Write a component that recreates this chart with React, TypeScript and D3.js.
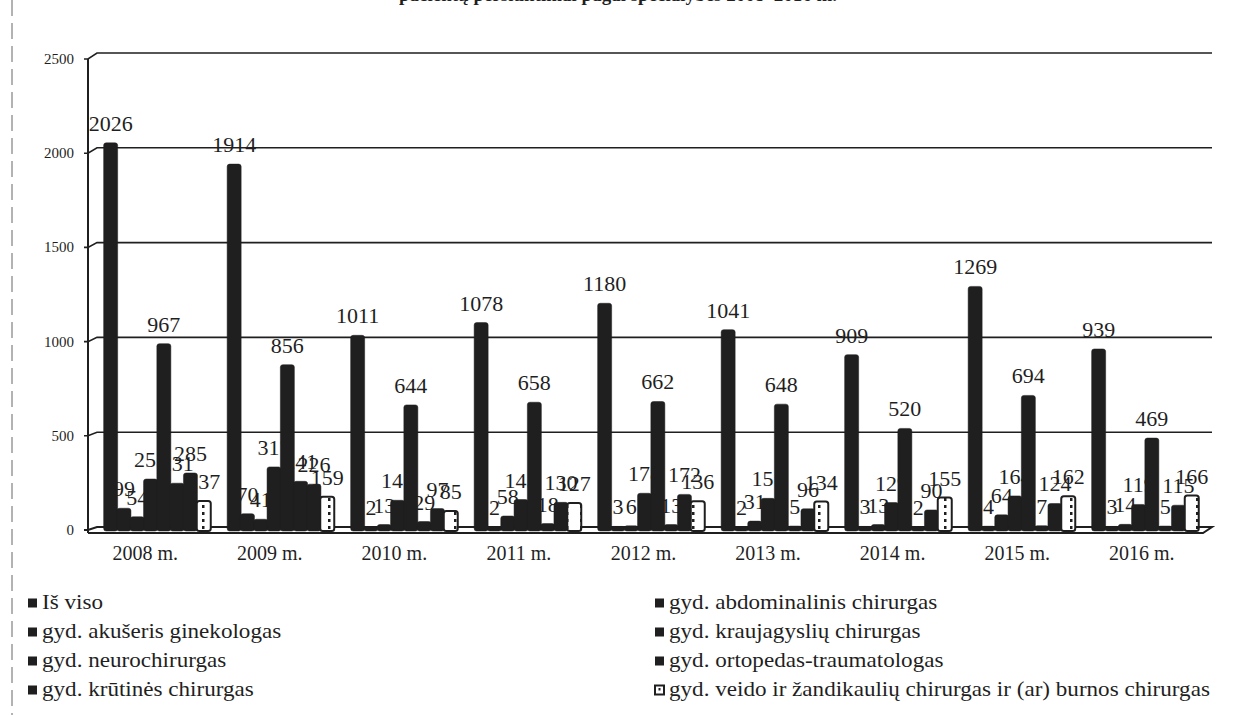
import React from "react";
import * as d3 from "d3";

const width = 1237;
const height = 715;

// categories
const years = ["2008 m.", "2009 m.", "2010 m.", "2011 m.", "2012 m.", "2013 m.", "2014 m.", "2015 m.", "2016 m."];

// series names (legend order, row by row)
const seriesNames = [
  "Iš viso",
  "gyd. abdominalinis chirurgas",
  "gyd. akušeris ginekologas",
  "gyd. kraujagyslių chirurgas",
  "gyd. neurochirurgas",
  "gyd. ortopedas-traumatologas",
  "gyd. krūtinės chirurgas",
  "gyd. veido ir žandikaulių chirurgas ir (ar) burnos chirurgas",
];

// series values, one per year
const isViso = [2026, 1914, 1011, 1078, 1180, 1041, 909, 1269, 939];
const abdominalinis = [99, 70, 2, 2, 3, 2, 3, 4, 3];
const akuseris = [54, 41, 13, 58, 6, 31, 13, 64, 14];
const kraujagysliu = [253, 317, 141, 145, 178, 151, 129, 164, 119];
const neurochirurgas = [967, 856, 644, 658, 662, 648, 520, 694, 469];
const ortopedas = [231, 241, 29, 18, 13, 5, 2, 7, 5];
const krutines = [285, 226, 97, 130, 172, 96, 90, 124, 115];
const veido = [137, 159, 85, 127, 136, 134, 155, 162, 166];

const seriesValues = [isViso, abdominalinis, akuseris, kraujagysliu, neurochirurgas, ortopedas, krutines, veido];

const yTicks = [0, 500, 1000, 1500, 2000, 2500];

const axisX = 88;   // front axis
const wallX = 97;   // back wall left edge
const rightX = 1212;
const floorY = 531;
const barW = 14;
const ink = "#1f1f1f";
const serif = "'Liberation Serif', 'Times New Roman', serif";

const App = () => {
  const yBack = d3.scaleLinear().domain([0, 2500]).range([527, 53]);
  const yFront = d3.scaleLinear().domain([0, 2500]).range([530, 59]);

  const xGroup = d3.scaleBand().domain(years).range([axisX, axisX + 9 * 123.5]);
  const xInner = d3.scaleBand().domain(seriesNames).range([16, 122.4]);
  const xLabel = d3.scaleBand().domain(years).range([83, 1204]);

  const barX = (yi: number, si: number) =>
    (xGroup(years[yi]) ?? 0) + (xInner(seriesNames[si]) ?? 0) + xInner.bandwidth() / 2 - barW / 2;

  const legendRows = [609, 638, 667, 696];

  return (
    <svg width={width} height={height} style={{ position: "absolute", left: 0, top: 0, background: "white" }}>
      <defs>
        <pattern id="hatch" width="14" height="7" patternUnits="userSpaceOnUse">
          <rect width="14" height="7" fill="white" />
          <rect x="6" y="1" width="2.5" height="3" fill={ink} />
        </pattern>
      </defs>
      <rect width={width} height={height} fill="white" />

      {/* scan border */}
      <line x1={12} y1={0} x2={12} y2={height} stroke="#666" strokeWidth={1} strokeDasharray="16 7" />

      {/* cut-off title */}
      <text x={618} y={1} textAnchor="middle" fontFamily={serif} fontWeight="bold" fontSize={19} fill={ink}>
        pacientų persiuntimai pagal specialybes 2008–2016 m.
      </text>

      {/* gridlines with perspective slant */}
      {yTicks.filter((t) => t > 0).map((t) => (
        <path
          key={t}
          d={`M${axisX - 4},${yFront(t)} H${axisX} L${wallX},${yBack(t)} H${rightX}`}
          fill="none"
          stroke={ink}
          strokeWidth={1.6}
        />
      ))}

      {/* floor */}
      <path
        d={`M${axisX - 4},${yFront(0)} H${axisX} L${wallX},${yBack(0)} H${rightX} L${rightX - 9},${floorY + 2} H${axisX}`}
        fill="none"
        stroke={ink}
        strokeWidth={2}
      />
      <line x1={axisX} y1={yFront(2500)} x2={axisX} y2={floorY + 2} stroke={ink} strokeWidth={2} />

      {/* y tick labels */}
      {yTicks.map((t) => (
        <text key={t} x={74} y={yFront(t) + 5} textAnchor="end" fontFamily={serif} fontSize={15} fill={ink}>
          {t}
        </text>
      ))}

      {/* bars and labels, series by series */}
      {seriesValues.map((vals, si) => (
        <g key={si}>
          {vals.map((v, yi) => {
            const top = yBack(v);
            const hatched = si === seriesValues.length - 1;
            return (
              <rect
                key={yi}
                x={barX(yi, si)}
                y={top}
                width={barW}
                height={floorY - top}
                rx={2.5}
                fill={hatched ? "url(#hatch)" : ink}
                stroke={ink}
                strokeWidth={hatched ? 2 : 0.5}
              />
            );
          })}
          {vals.map((v, yi) => (
            <text
              key={"l" + yi}
              x={barX(yi, si) + barW / 2}
              y={yBack(v) - 12}
              textAnchor="middle"
              fontFamily={serif}
              fontSize={22}
              fill={ink}
            >
              {v}
            </text>
          ))}
        </g>
      ))}

      {/* category labels */}
      {years.map((y) => (
        <text
          key={y}
          x={(xLabel(y) ?? 0) + xLabel.bandwidth() / 2}
          y={560}
          textAnchor="middle"
          fontFamily={serif}
          fontSize={20}
          fill={ink}
        >
          {y}
        </text>
      ))}

      {/* legend */}
      {seriesNames.map((name, si) => {
        const col = si % 2;
        const row = Math.floor(si / 2);
        const mx = col === 0 ? 28 : 655;
        const cy = legendRows[row] - 6;
        const hatched = si === seriesNames.length - 1;
        return (
          <g key={name}>
            <rect
              x={mx}
              y={cy - 4.5}
              width={9}
              height={9}
              fill={hatched ? "white" : ink}
              stroke={ink}
              strokeWidth={hatched ? 2 : 0}
            />
            {hatched && <rect x={mx + 3.5} y={cy - 2} width={2} height={2.5} fill={ink} />}
            <text
              transform={`translate(${mx + 14},${legendRows[row]}) scale(1.1,1)`}
              fontFamily={serif}
              fontSize={21}
              fill={ink}
            >
              {name}
            </text>
          </g>
        );
      })}
    </svg>
  );
};

export default App;
